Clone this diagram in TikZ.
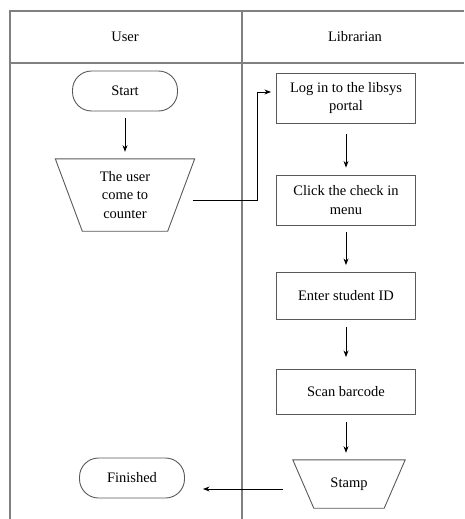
\documentclass[tikz,border=0pt]{standalone}
\usepackage{fontspec}
\setmainfont{Liberation Serif}
\usetikzlibrary{arrows.meta}

\begin{document}
\begin{tikzpicture}[x=1pt, y=-1pt, >=Stealth,
    font=\fontsize{14.5}{18.5}\selectfont,
    lane/.style={draw=black!50, line width=1.2pt},
    outline/.style={draw=black!65, line width=0.9pt},
    terminal/.style={outline, rounded corners=19pt,
      minimum width=105pt, minimum height=40pt},
    process/.style={outline, minimum width=139pt,
      minimum height=50pt, align=center},
    manual/.style={align=center, inner sep=0pt},
    flow/.style={->, line width=0.8pt, shorten <=7pt, shorten >=7pt}]

    \useasboundingbox (0,0) rectangle (464,519);

    % swimlanes
    \draw[lane] (10,519) -- (10,11) -- (464,11);
    \draw[lane] (10,63) -- (464,63);
    \draw[lane] (242,11) -- (242,519);

    \node (user) at (125,37) {User};
    \node (librarian) at (355,37) {Librarian};

    % user lane
    \node[terminal] (start) at (125,91) {Start};
    \node[manual, minimum width=139pt, minimum height=72pt]
    (come) at (125,195) {The user\\come to\\counter};
    \draw[outline] (come.north west) -- (come.north east)
    -- ([xshift=-27pt]come.south east) -- ([xshift=27pt]come.south west)
    -- cycle;
    \node[terminal] (finished) at (132,478) {Finished};

    % librarian lane
    \node[process] (login) at (346,98) {Log in to the libsys\\portal};
    \node[process] (click) at (346,200) {Click the check in\\menu};
    \node[process, minimum height=47pt] (enter) at (346,296) {Enter student ID};
    \node[process, minimum height=45pt] (scan) at (346,392) {Scan barcode};
    \node[manual, minimum width=112pt, minimum height=48pt]
    (stamp) at (349,484) {Stamp};
    \draw[outline] (stamp.north west) -- (stamp.north east)
    -- ([xshift=-21pt]stamp.south east) -- ([xshift=21pt]stamp.south west)
    -- cycle;

    \coordinate (bend) at (257,200);

    \draw[flow] (start) -- (come);
    \draw[flow, shorten <=0pt, shorten >=5pt]
    ([xshift=-2pt,yshift=-5pt]come.east) -- (bend)
    |- ([yshift=6pt]login.west);
    \draw[flow, shorten <=11pt] (login) -- (click);
    \draw[flow] (click) -- (enter);
    \draw[flow, shorten >=12pt] (enter) -- (scan);
    \draw[flow] (scan.south) -- (scan.south |- stamp.north);
    \draw[flow, shorten <=0pt, shorten >=0pt]
    ([xshift=-10pt,yshift=-5pt]stamp.west) --
    ([xshift=18pt,yshift=-11pt]finished.east);
\end{tikzpicture}
\end{document}
